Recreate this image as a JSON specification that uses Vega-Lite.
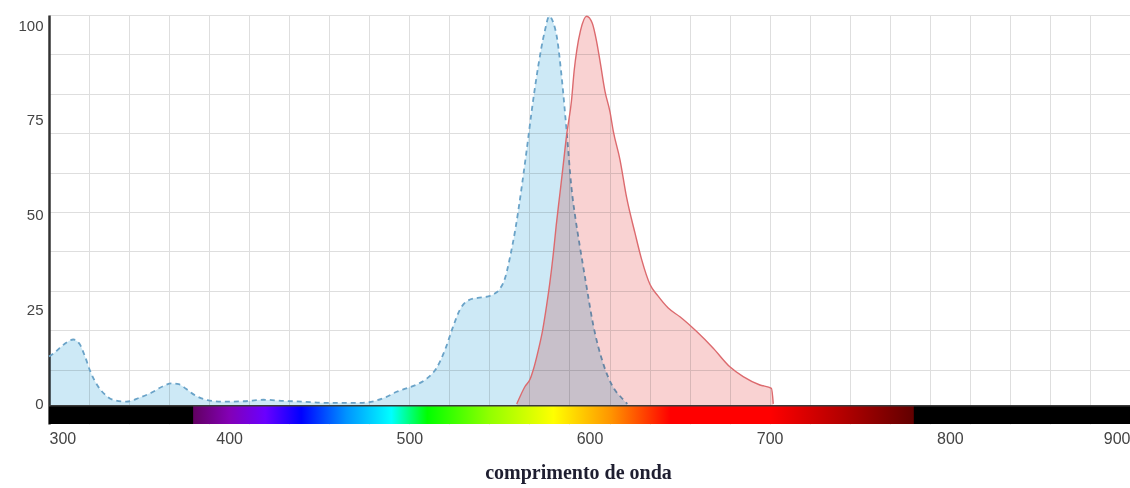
{
  "$schema": "https://vega.github.io/schema/vega-lite/v6.json",
  "width": 1081,
  "height": 409,
  "autosize": {"type": "none"},
  "padding": {"left": 49, "top": 15, "right": 0, "bottom": 64},
  "background": "white",
  "config": {"view": {"stroke": null}},
  "datasets": {
    "spectra": [
      {"series": "excitation", "wl": 300, "v": 12.5},
      {"series": "excitation", "wl": 303, "v": 13.5},
      {"series": "excitation", "wl": 306, "v": 14.8},
      {"series": "excitation", "wl": 310, "v": 16.3},
      {"series": "excitation", "wl": 313.5, "v": 17},
      {"series": "excitation", "wl": 317, "v": 15.8},
      {"series": "excitation", "wl": 320, "v": 12.5},
      {"series": "excitation", "wl": 323, "v": 8.5},
      {"series": "excitation", "wl": 327, "v": 4.8},
      {"series": "excitation", "wl": 331, "v": 2.5},
      {"series": "excitation", "wl": 336, "v": 1.0},
      {"series": "excitation", "wl": 343, "v": 0.6},
      {"series": "excitation", "wl": 350, "v": 1.6},
      {"series": "excitation", "wl": 357, "v": 3},
      {"series": "excitation", "wl": 363, "v": 4.6},
      {"series": "excitation", "wl": 368, "v": 5.4},
      {"series": "excitation", "wl": 372, "v": 5.2},
      {"series": "excitation", "wl": 376, "v": 4.0},
      {"series": "excitation", "wl": 381, "v": 2.3},
      {"series": "excitation", "wl": 388, "v": 1.0},
      {"series": "excitation", "wl": 397, "v": 0.6},
      {"series": "excitation", "wl": 408, "v": 0.7},
      {"series": "excitation", "wl": 419, "v": 1.1},
      {"series": "excitation", "wl": 430, "v": 0.8},
      {"series": "excitation", "wl": 441, "v": 0.6},
      {"series": "excitation", "wl": 452, "v": 0.3},
      {"series": "excitation", "wl": 463, "v": 0.3},
      {"series": "excitation", "wl": 474, "v": 0.3},
      {"series": "excitation", "wl": 481, "v": 0.8},
      {"series": "excitation", "wl": 487, "v": 1.8},
      {"series": "excitation", "wl": 493, "v": 3.2},
      {"series": "excitation", "wl": 499, "v": 4.2},
      {"series": "excitation", "wl": 505, "v": 5.3},
      {"series": "excitation", "wl": 510, "v": 6.8},
      {"series": "excitation", "wl": 515, "v": 9.4},
      {"series": "excitation", "wl": 520, "v": 14.5},
      {"series": "excitation", "wl": 524, "v": 20},
      {"series": "excitation", "wl": 528, "v": 24.8},
      {"series": "excitation", "wl": 533, "v": 27.4},
      {"series": "excitation", "wl": 538, "v": 28},
      {"series": "excitation", "wl": 543, "v": 28.3},
      {"series": "excitation", "wl": 547, "v": 29},
      {"series": "excitation", "wl": 550, "v": 30.2},
      {"series": "excitation", "wl": 553, "v": 33},
      {"series": "excitation", "wl": 556, "v": 39},
      {"series": "excitation", "wl": 559, "v": 46.5},
      {"series": "excitation", "wl": 562, "v": 56},
      {"series": "excitation", "wl": 565, "v": 66.5},
      {"series": "excitation", "wl": 568, "v": 77.6},
      {"series": "excitation", "wl": 571.5, "v": 89},
      {"series": "excitation", "wl": 575, "v": 98},
      {"series": "excitation", "wl": 577.7, "v": 102.3},
      {"series": "excitation", "wl": 580, "v": 100.5},
      {"series": "excitation", "wl": 582, "v": 96.5},
      {"series": "excitation", "wl": 584.6, "v": 86},
      {"series": "excitation", "wl": 587.3, "v": 72},
      {"series": "excitation", "wl": 590, "v": 57},
      {"series": "excitation", "wl": 592.5, "v": 48},
      {"series": "excitation", "wl": 594.5, "v": 42},
      {"series": "excitation", "wl": 598, "v": 32},
      {"series": "excitation", "wl": 602, "v": 21},
      {"series": "excitation", "wl": 607.7, "v": 10.5},
      {"series": "excitation", "wl": 613, "v": 4.5},
      {"series": "excitation", "wl": 618, "v": 1.5},
      {"series": "excitation", "wl": 621, "v": 0},
      {"series": "emission", "wl": 559.6, "v": 0},
      {"series": "emission", "wl": 561.4, "v": 1.9},
      {"series": "emission", "wl": 564.2, "v": 4.6},
      {"series": "emission", "wl": 567, "v": 6.5},
      {"series": "emission", "wl": 568.8, "v": 9},
      {"series": "emission", "wl": 571.6, "v": 14.2},
      {"series": "emission", "wl": 574, "v": 19.5},
      {"series": "emission", "wl": 576.2, "v": 26},
      {"series": "emission", "wl": 578, "v": 32},
      {"series": "emission", "wl": 580, "v": 40},
      {"series": "emission", "wl": 581.5, "v": 47},
      {"series": "emission", "wl": 583.6, "v": 55.6},
      {"series": "emission", "wl": 585.4, "v": 63},
      {"series": "emission", "wl": 587.3, "v": 71},
      {"series": "emission", "wl": 590, "v": 80},
      {"series": "emission", "wl": 591.5, "v": 88},
      {"series": "emission", "wl": 593, "v": 93.5},
      {"series": "emission", "wl": 595, "v": 98.5},
      {"series": "emission", "wl": 598.4, "v": 102.3},
      {"series": "emission", "wl": 601.5, "v": 100.5},
      {"series": "emission", "wl": 604, "v": 95.5},
      {"series": "emission", "wl": 606, "v": 90},
      {"series": "emission", "wl": 608.6, "v": 82.5},
      {"series": "emission", "wl": 611.4, "v": 77},
      {"series": "emission", "wl": 613.2, "v": 72},
      {"series": "emission", "wl": 616.9, "v": 64.5},
      {"series": "emission", "wl": 620.6, "v": 54.5},
      {"series": "emission", "wl": 625.3, "v": 45},
      {"series": "emission", "wl": 629, "v": 38},
      {"series": "emission", "wl": 633.6, "v": 31.5},
      {"series": "emission", "wl": 638, "v": 28.5},
      {"series": "emission", "wl": 643.7, "v": 25.3},
      {"series": "emission", "wl": 650.2, "v": 23},
      {"series": "emission", "wl": 659.5, "v": 19.1},
      {"series": "emission", "wl": 668.7, "v": 14.7},
      {"series": "emission", "wl": 677.9, "v": 9.8},
      {"series": "emission", "wl": 685.3, "v": 7.2},
      {"series": "emission", "wl": 694.6, "v": 5},
      {"series": "emission", "wl": 701, "v": 4.1},
      {"series": "emission", "wl": 702, "v": 0}
    ],
    "band": [
      {"name": "full", "start": 300, "end": 900},
      {"name": "visible", "start": 380, "end": 780}
    ]
  },
  "layer": [
    {
      "data": {"name": "spectra"},
      "transform": [{"filter": "datum.series === 'excitation'"}],
      "mark": {"type": "area", "interpolate": "monotone", "color": "#cde9f6", "blend": "multiply"},
      "encoding": {
        "x": {
          "field": "wl", "type": "quantitative",
          "scale": {"domain": [300, 900], "nice": false, "zero": false},
          "axis": {
            "orient": "bottom", "grid": true, "gridColor": "#dedede", "gridWidth": 1,
            "values": [300, 322.222, 344.444, 366.667, 388.889, 411.111, 433.333, 455.556, 477.778, 500, 522.222, 544.444, 566.667, 588.889, 611.111, 633.333, 655.556, 677.778, 700, 722.222, 744.444, 766.667, 788.889, 811.111, 833.333, 855.556, 877.778, 900],
            "labels": false, "ticks": false, "domain": false, "title": null
          }
        },
        "y": {
          "field": "v", "type": "quantitative",
          "scale": {"domain": [-5.3, 102.64], "nice": false, "zero": false},
          "axis": {
            "orient": "left", "grid": true, "gridColor": "#dedede", "gridWidth": 1,
            "values": [9.08, 19.47, 29.87, 40.26, 50.66, 61.06, 71.46, 81.85, 92.25, 102.64],
            "labels": false, "ticks": false, "domain": false, "title": null
          }
        },
        "y2": {"datum": -0.4}
      }
    },
    {
      "data": {"name": "spectra"},
      "transform": [{"filter": "datum.series === 'excitation'"}],
      "mark": {"type": "line", "interpolate": "monotone", "color": "#6aa3c8", "strokeWidth": 1.8, "strokeDash": [5, 4]},
      "encoding": {
        "x": {"field": "wl", "type": "quantitative", "axis": null},
        "y": {"field": "v", "type": "quantitative", "axis": null}
      }
    },
    {
      "data": {"name": "spectra"},
      "transform": [{"filter": "datum.series === 'emission'"}],
      "mark": {"type": "area", "interpolate": "monotone", "color": "#f9d2d2", "blend": "multiply"},
      "encoding": {
        "x": {
          "field": "wl", "type": "quantitative",
          "axis": {
            "orient": "bottom", "grid": false,
            "values": [300, 400, 500, 600, 700, 800, 900],
            "labelFlush": true, "labelOverlap": false, "labelBound": false,
            "ticks": false, "domain": false, "labelPadding": 6,
            "labelFont": "Liberation Sans", "labelFontSize": 16, "labelColor": "#444444",
            "title": "comprimento de onda",
            "titleFont": "Liberation Serif", "titleFontSize": 20, "titleFontWeight": "bold",
            "titleColor": "#1e1e30", "titleX": 529, "titleY": 54,
            "titleAlign": "center", "titleBaseline": "alphabetic"
          }
        },
        "y": {
          "field": "v", "type": "quantitative",
          "axis": {
            "orient": "left", "grid": false,
            "values": [0, 25, 50, 75, 100],
            "labelFlush": false, "labelOverlap": false,
            "ticks": false, "domain": true, "domainColor": "#333333", "domainWidth": 2.5,
            "labelPadding": 6,
            "labelFont": "Liberation Sans", "labelFontSize": 15, "labelColor": "#444444",
            "title": null
          }
        },
        "y2": {"datum": -0.4}
      }
    },
    {
      "data": {"name": "spectra"},
      "transform": [{"filter": "datum.series === 'emission'"}],
      "mark": {"type": "line", "interpolate": "monotone", "color": "#dc6a6e", "strokeWidth": 1.4},
      "encoding": {
        "x": {"field": "wl", "type": "quantitative", "axis": null},
        "y": {"field": "v", "type": "quantitative", "axis": null}
      }
    },
    {
      "data": {"name": "band"},
      "transform": [{"filter": "datum.name === 'full'"}],
      "mark": {"type": "rect", "color": "#000000"},
      "encoding": {
        "x": {"field": "start", "type": "quantitative", "axis": null},
        "x2": {"field": "end"},
        "y": {"datum": -5.3, "type": "quantitative", "axis": null},
        "y2": {"datum": -0.5}
      }
    },
    {
      "data": {"name": "band"},
      "transform": [{"filter": "datum.name === 'visible'"}],
      "mark": {
        "type": "rect",
        "fill": {
          "gradient": "linear", "x1": 0, "y1": 0, "x2": 1, "y2": 0,
          "stops": [
            {"offset": 0, "color": "#610061"},
            {"offset": 0.05, "color": "#8300b5"},
            {"offset": 0.1, "color": "#6a00ff"},
            {"offset": 0.15, "color": "#0000ff"},
            {"offset": 0.2125, "color": "#0093ff"},
            {"offset": 0.275, "color": "#00ffff"},
            {"offset": 0.325, "color": "#00ff00"},
            {"offset": 0.4125, "color": "#93ff00"},
            {"offset": 0.5, "color": "#ffff00"},
            {"offset": 0.58, "color": "#ff9400"},
            {"offset": 0.6625, "color": "#ff0000"},
            {"offset": 0.8, "color": "#ff0000"},
            {"offset": 0.9, "color": "#b40000"},
            {"offset": 1, "color": "#610000"}
          ]
        }
      },
      "encoding": {
        "x": {"field": "start", "type": "quantitative", "axis": null},
        "x2": {"field": "end"},
        "y": {"datum": -5.3, "type": "quantitative", "axis": null},
        "y2": {"datum": -0.5}
      }
    },
    {
      "data": {"name": "band"},
      "transform": [{"filter": "datum.name === 'full'"}],
      "mark": {"type": "rule", "color": "#3a3a3a", "strokeWidth": 1.5},
      "encoding": {
        "y": {"datum": -0.5, "type": "quantitative", "axis": null}
      }
    }
  ],
  "resolve": {"axis": {"x": "independent", "y": "independent"}}
}
